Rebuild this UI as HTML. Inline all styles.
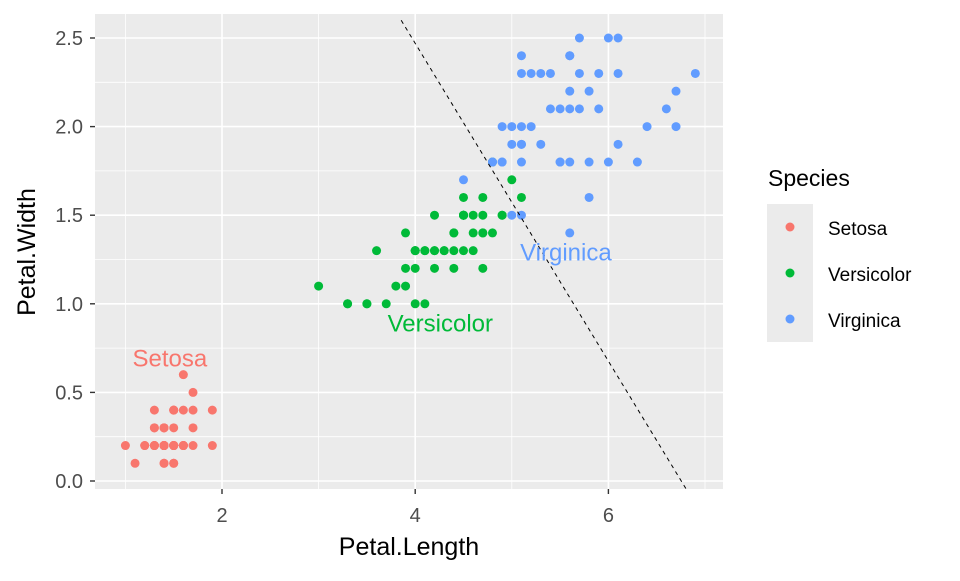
<!DOCTYPE html>
<html><head><meta charset="utf-8"><style>
body{margin:0;background:#fff;}
svg text{font-family:"Liberation Sans",Arial,sans-serif;}
</style></head><body>
<svg id="chart" width="960" height="576" xmlns="http://www.w3.org/2000/svg">
<rect x="0" y="0" width="960" height="576" fill="#fff"/>
<rect x="95" y="14" width="628" height="475" fill="#EBEBEB"/>
<g id="grid"></g>
<g id="pts"></g>
<g id="axes"></g>
<text x="409" y="555" font-size="25" text-anchor="middle" fill="#000">Petal.Length</text>
<text transform="translate(35,252) rotate(-90)" font-size="25" text-anchor="middle" fill="#000">Petal.Width</text>
<g>
<text x="768" y="186" font-size="23" fill="#000">Species</text>
<rect x="767" y="204" width="46" height="138" fill="#EBEBEB"/>
<circle cx="790" cy="227" r="4.5" fill="#F8766D"/>
<circle cx="790" cy="273" r="4.5" fill="#00BA38"/>
<circle cx="790" cy="319" r="4.5" fill="#619CFF"/>
<text x="828" y="235" font-size="19" fill="#000">Setosa</text>
<text x="828" y="281" font-size="19" fill="#000">Versicolor</text>
<text x="828" y="327" font-size="19" fill="#000">Virginica</text>
</g>
</svg>
<script>
const xTicks=[2,4,6];
const xMinor=[1,3,5,7];
const yTicks=[0,0.5,1,1.5,2,2.5];
const yTickLabels=["0.0","0.5","1.0","1.5","2.0","2.5"];
const yMinor=[0.25,0.75,1.25,1.75,2.25];
const species=["Setosa","Versicolor","Virginica"];
const colors=["#F8766D","#00BA38","#619CFF"];
const setosaLen=[1.4,1.4,1.3,1.5,1.4,1.7,1.4,1.5,1.4,1.5,1.5,1.6,1.4,1.1,1.2,1.5,1.3,1.4,1.7,1.5,1.7,1.5,1.0,1.7,1.9,1.6,1.6,1.5,1.4,1.6,1.6,1.5,1.5,1.4,1.5,1.2,1.3,1.4,1.3,1.5,1.3,1.3,1.3,1.6,1.9,1.4,1.6,1.4,1.5,1.4];
const setosaWid=[.2,.2,.2,.2,.2,.4,.3,.2,.2,.1,.2,.2,.1,.1,.2,.4,.4,.3,.3,.3,.2,.4,.2,.5,.2,.2,.4,.2,.2,.2,.2,.4,.1,.2,.2,.2,.2,.1,.2,.2,.3,.3,.2,.6,.4,.3,.2,.2,.2,.2];
const versiLen=[4.7,4.5,4.9,4.0,4.6,4.5,4.7,3.3,4.6,3.9,3.5,4.2,4.0,4.7,3.6,4.4,4.5,4.1,4.5,3.9,4.8,4.0,4.9,4.7,4.3,4.4,4.8,5.0,4.5,3.5,3.8,3.7,3.9,5.1,4.5,4.5,4.7,4.4,4.1,4.0,4.4,4.6,4.0,3.3,4.2,4.2,4.2,4.3,3.0,4.1];
const versiWid=[1.4,1.5,1.5,1.3,1.5,1.3,1.6,1.0,1.3,1.4,1.0,1.5,1.0,1.4,1.3,1.4,1.5,1.0,1.5,1.1,1.8,1.3,1.5,1.2,1.3,1.4,1.4,1.7,1.5,1.0,1.1,1.0,1.2,1.6,1.5,1.6,1.5,1.3,1.3,1.3,1.2,1.4,1.2,1.0,1.3,1.2,1.3,1.3,1.1,1.3];
const virgLen=[6.0,5.1,5.9,5.6,5.8,6.6,4.5,6.3,5.8,6.1,5.1,5.3,5.5,5.0,5.1,5.3,5.5,6.7,6.9,5.0,5.7,4.9,6.7,4.9,5.7,6.0,4.8,4.9,5.6,5.8,6.1,6.4,5.6,5.1,5.6,6.1,5.6,5.5,4.8,5.4,5.6,5.1,5.1,5.9,5.7,5.2,5.0,5.2,5.4,5.1];
const virgWid=[2.5,1.9,2.1,1.8,2.2,2.1,1.7,1.8,1.8,2.5,2.0,1.9,2.1,2.0,2.4,2.3,1.8,2.2,2.3,1.5,2.3,2.0,2.0,1.8,2.1,1.8,1.8,1.8,2.1,1.6,1.9,2.0,2.2,1.5,1.4,2.3,2.4,1.8,1.8,2.1,2.4,2.3,1.9,2.3,2.5,2.3,1.9,2.0,2.3,1.8];
const lineX=[3.855,6.81];
const lineY=[2.6,-0.05];
const labelPos=[[1.46,0.69],[4.26,0.89],[5.56,1.29]];

const NS="http://www.w3.org/2000/svg";
const xS=v=>222+(v-2)*96.6;
const yS=v=>481-v*177.2;
function mk(tag,attrs,parent){const e=document.createElementNS(NS,tag);for(const k in attrs)e.setAttribute(k,attrs[k]);parent.appendChild(e);return e;}
const grid=document.getElementById('grid'),pts=document.getElementById('pts'),axes=document.getElementById('axes');
xMinor.forEach(v=>{const l=mk('line',{x1:xS(v),x2:xS(v),y1:14,y2:489,stroke:'#fff','stroke-width':0.8},grid);

});
yMinor.forEach(v=>{const l=mk('line',{x1:95,x2:723,y1:yS(v),y2:yS(v),stroke:'#fff','stroke-width':0.8},grid);

});
xTicks.forEach(v=>{const l=mk('line',{x1:xS(v),x2:xS(v),y1:14,y2:489,stroke:'#fff','stroke-width':1.6},grid);


const t=mk('line',{x1:xS(v),x2:xS(v),y1:489,y2:494,stroke:'#333','stroke-width':1.4},axes);


const tx=mk('text',{x:xS(v),y:522,'font-size':20,'text-anchor':'middle',fill:'#4D4D4D'},axes);tx.textContent=v;

});
yTicks.forEach((v,i)=>{const l=mk('line',{x1:95,x2:723,y1:yS(v),y2:yS(v),stroke:'#fff','stroke-width':1.6},grid);


const t=mk('line',{x1:90,x2:95,y1:yS(v),y2:yS(v),stroke:'#333','stroke-width':1.4},axes);


const tx=mk('text',{x:83,y:yS(v)+7,'font-size':20,'text-anchor':'end',fill:'#4D4D4D'},axes);tx.textContent=yTickLabels[i];

});
const series=[[setosaLen,setosaWid],[versiLen,versiWid],[virgLen,virgWid]];
series.forEach((s,k)=>{s[0].forEach((x,i)=>{const c=mk('circle',{cx:xS(x),cy:yS(s[1][i]),r:4.5,fill:colors[k]},pts);

});});
const dl=mk('line',{x1:xS(lineX[0]),y1:yS(lineY[0]),x2:xS(lineX[1]),y2:yS(lineY[1]),stroke:'#000','stroke-width':1,'stroke-dasharray':'4,4'},pts);


species.forEach((s,k)=>{const t=mk('text',{x:xS(labelPos[k][0]),y:yS(labelPos[k][1])+8,'font-size':24,'text-anchor':'middle',fill:colors[k]},pts);t.textContent=s;

});
</script>
</body></html>
